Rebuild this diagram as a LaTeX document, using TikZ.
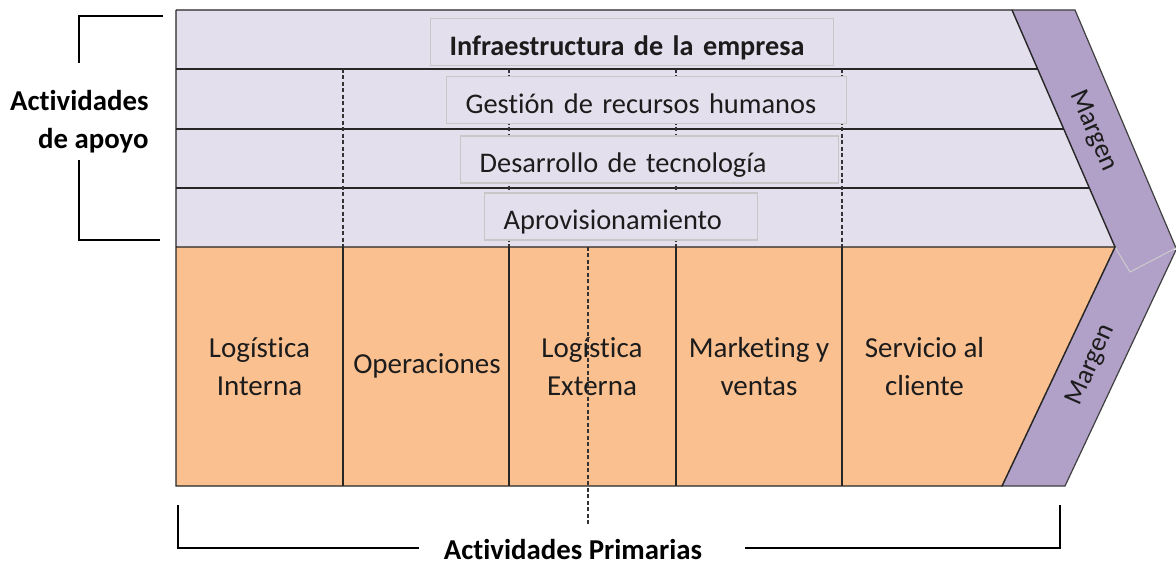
\documentclass[tikz,border=0pt]{standalone}
\usepackage{fontspec}
\setmainfont{Carlito}[Ligatures=NoCommon]
\usetikzlibrary{positioning}

\definecolor{apoyo}{HTML}{E4DFEC}
\definecolor{primaria}{HTML}{FAC090}
\definecolor{margen}{HTML}{B1A0C7}
\definecolor{texto}{HTML}{1C1C1C}

\tikzset{
  linea/.style={draw=black!85, line width=1.4pt},
  corte/.style={draw=black!80, line width=1.1pt, dash pattern=on 4pt off 2.5pt},
  caja/.style={draw=black!22, line width=1.3pt, fill=apoyo, anchor=west,
    inner xsep=19pt, inner ysep=8pt, text height=29pt, text depth=2pt,
    align=left, text=texto, font=\fontsize{28.4}{32}\selectfont},
  etiqueta/.style={align=center, text=texto, font=\fontsize{29}{38}\selectfont},
  titulo/.style={align=right, text=black, inner ysep=0pt,
    font=\bfseries\fontsize{28.8}{38}\selectfont},
  llave/.style={draw=black, line width=2.6pt},
  margentxt/.style={text=texto, font=\fontsize{27}{32}\selectfont}
}

\begin{document}
\begin{tikzpicture}[x=1pt, y=-1pt]
  \useasboundingbox (0,0) rectangle (1176,564);

  % franja inferior del margen
  \fill[margen] (1115,247) -- (1176,250) -- (1065,486) -- (1002,486) -- cycle;
  \draw[black!75, line width=1.2pt] (1115,247) -- (1002,486) -- (1065,486) -- (1176,250);

  % franja superior del margen
  \fill[margen] (1012,10) -- (1075,10) -- (1176,248) -- (1130,272) -- (1115,247) -- cycle;
  \draw[black!75, line width=1.2pt] (1012,10) -- (1075,10) -- (1176,248);
  \draw[black!20, line width=1pt] (1115,247) -- (1130,272) -- (1176,248);

  % actividades de apoyo
  \fill[apoyo] (176,10) -- (1012,10) -- (1115,247) -- (176,247) -- cycle;
  \draw[linea] (176,10) -- (1012,10) -- (1115,247);
  \foreach \y/\xr in {69/1037.6, 129/1063.7, 188/1089.4}
    \draw[linea] (176,\y) -- (\xr,\y);

  % lineas discontinuas entre columnas
  \foreach \x in {343, 509, 676, 842}
    \draw[corte] (\x,69) -- (\x,247);

  % actividades primarias
  \fill[primaria] (176,247) -- (1115,247) -- (1002,486) -- (176,486) -- cycle;
  \draw[linea] (176,10) -- (176,486) -- (1002,486) -- (1115,247) -- (176,247);
  \foreach \x in {343, 509, 676, 842}
    \draw[linea] (\x,247) -- (\x,486);

  % cajas de apoyo
  \node[caja, text width=365pt] (infra) at (430,42)
    {\bfseries\fontsize{28.2}{32}\selectfont Infraestructura de la empresa};
  \node[caja, text width=362pt] (rrhh) at (446,100) {Gestión de recursos humanos};
  \node[caja, text width=340pt] (tecno) at (460,159.5) {Desarrollo de tecnología};
  \node[caja, text width=235pt] (aprov) at (484,216.5) {Aprovisionamiento};

  % etiquetas primarias
  \node[etiqueta] (login) at (259.5,367) {Logística\\Interna};
  \node[etiqueta] (oper) at (427,366) {Operaciones};
  \node[etiqueta] (logext) at (592,367) {Logística\\Externa};
  \node[etiqueta] (mkt) at (759,367) {Marketing y\\ventas};
  \node[etiqueta] (serv) at (924.5,367) {Servicio al\\cliente};

  % linea discontinua central
  \coordinate (cortesup) at (588,247);
  \coordinate (corteinf) at (588,526);
  \draw[corte] (cortesup) -- (corteinf);

  % textos del margen
  \node[margentxt, rotate=-66.5] (margensup) at (1093,131) {Margen};
  \node[margentxt, rotate=66.5] (margeninf) at (1091,365) {Margen};

  % llave izquierda
  \node[titulo, anchor=east] (apoyotxt) at (152,122) {Actividades\\de apoyo};
  \draw[llave] (163,16) -- (79,16) -- (79,63);
  \draw[llave] (79,160) -- (79,240) -- (160,240);

  % llave inferior
  \node[titulo, inner xsep=0pt] (primtxt) at (573,549) {Actividades Primarias};
  \coordinate (llaveizq) at ([xshift=-25pt]primtxt.west |- 0,548);
  \coordinate (llaveder) at ([xshift=43pt]primtxt.east |- 0,548);
  \draw[llave] (178,505) -- (178,548) -- (llaveizq);
  \draw[llave] (llaveder) -- (1060,548) -- (1060,505);
\end{tikzpicture}
\end{document}
